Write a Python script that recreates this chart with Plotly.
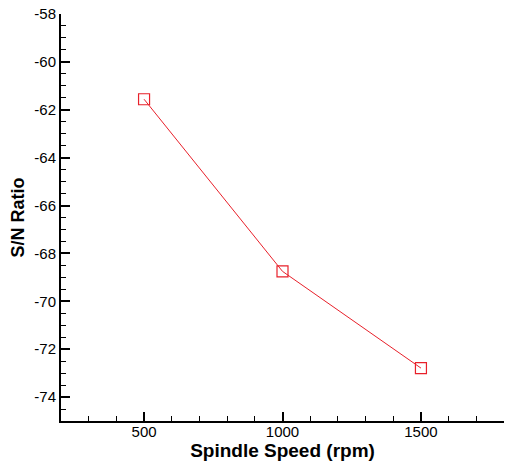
import plotly.graph_objects as go

spindle_speed = [500, 1000, 1500]
sn_ratio = [-61.56, -68.75, -72.79]
x_tick_vals = [500, 1000, 1500]
x_tick_text = ["500", "1000", "1500"]
y_tick_vals = [-58, -60, -62, -64, -66, -68, -70, -72, -74]
y_tick_text = ["-58", "-60", "-62", "-64", "-66", "-68", "-70", "-72", "-74"]

fig = go.Figure()
fig.add_trace(go.Scatter(
    x=spindle_speed, y=sn_ratio, mode="lines+markers",
    line=dict(color="#e8202a", width=1),
    marker=dict(symbol="square-open", size=11, color="#e8202a", line=dict(width=1.2)),
    showlegend=False,
))

axis_common = dict(
    showline=True, linecolor="black", linewidth=2, mirror=False,
    showgrid=False, zeroline=False, automargin=False,
    ticks="inside", ticklen=9, tickwidth=2, tickcolor="black",
    ticklabeloverflow="allow",
    tickfont=dict(family="Liberation Sans, Arial", size=15, color="black"),
)

fig.update_xaxes(
    range=[200, 1800], tickvals=x_tick_vals, ticktext=x_tick_text,
    ticklabelstandoff=-4,
    minor=dict(dtick=100, ticks="inside", ticklen=5, tickwidth=1, tickcolor="black"),
    title=dict(text="<b>Spindle Speed (rpm)</b>", standoff=2,
               font=dict(family="Liberation Sans, Arial", size=19, color="black")),
    **axis_common,
)
fig.update_yaxes(
    range=[-75, -58], tickvals=y_tick_vals, ticktext=y_tick_text,
    minor=dict(dtick=0.5, ticks="inside", ticklen=5, tickwidth=1, tickcolor="black"),
    title=dict(text="<b>S/N Ratio</b>", standoff=13,
               font=dict(family="Liberation Sans, Arial", size=18, color="black")),
    **axis_common,
)

fig.update_layout(
    width=517, height=453,
    margin=dict(l=53, r=21, t=6, b=40),
    plot_bgcolor="white", paper_bgcolor="white",
)

fig.write_html("out.html")
